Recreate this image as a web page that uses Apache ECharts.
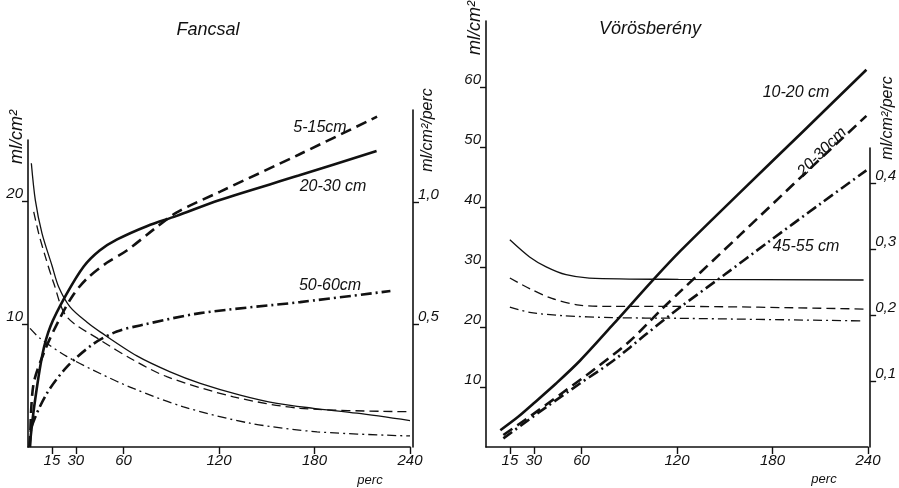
<!DOCTYPE html>
<html>
<head>
<meta charset="utf-8">
<script src="https://cdn.jsdelivr.net/npm/echarts@6/dist/echarts.min.js"></script>
<style>html,body{margin:0;padding:0;background:#fff}#c{width:899px;height:488px}</style>
</head>
<body>
<div id="c"></div>
<script>
// ---- tick labels ----
const xTicks = [15, 30, 60, 120, 180, 240];
const fLeftTicks = [10, 20];
const fRightTicks = [0.5, 1.0];
const vLeftTicks = [10, 20, 30, 40, 50, 60];
const vRightTicks = [0.1, 0.2, 0.3, 0.4];

// ---- Fancsal: cumulative (ml/cm2) ----
const f515_t = [1.3, 3.3, 10.7, 20.1, 28.5, 36.9, 49.5, 62.1, 78.8, 93.5, 120.8, 170, 219.3];
const f515_v = [0, 5.0, 7.9, 10.5, 12.4, 13.7, 15.0, 16.0, 17.7, 19.1, 20.8, 23.8, 26.9];
const f2030_t = [1, 4, 9, 14, 24, 35, 45, 56, 75, 93, 120, 170, 219];
const f2030_v = [0, 3.4, 7.5, 9.8, 12.4, 14.7, 16.0, 16.9, 18.0, 18.8, 20.1, 22.1, 24.1];
const f5060_t = [1, 2.3, 11.8, 24.3, 41.1, 55.8, 70.4, 108.2, 171, 227.7];
const f5060_v = [0, 1.65, 4.35, 6.5, 8.4, 9.4, 9.9, 10.9, 11.8, 12.7];
// ---- Fancsal: rate (ml/cm2/perc) ----
const fr2030_t = [2.1, 4.6, 8.8, 15.1, 19.3, 26.4, 36.9, 45.3, 68.4, 89.3, 108.2, 133.3, 156.4, 179.4, 206.7, 240];
const fr2030_v = [1.158, 1.008, 0.872, 0.74, 0.653, 0.572, 0.51, 0.47, 0.372, 0.307, 0.26, 0.212, 0.178, 0.158, 0.138, 0.108];
const fr515_t = [3.6, 6.7, 10.9, 16.2, 24.3, 45.3, 66.2, 87.2, 129.1, 171, 240];
const fr515_v = [0.96, 0.872, 0.777, 0.668, 0.532, 0.437, 0.355, 0.287, 0.205, 0.158, 0.144];
const fr5060_t = [1.3, 7.5, 24.3, 45.3, 66.2, 97.7, 139.6, 181.6, 240];
const fr5060_v = [0.484, 0.444, 0.37, 0.3, 0.239, 0.164, 0.097, 0.062, 0.045];

// ---- Vörösberény: cumulative (ml/cm2) ----
const v1020_t = [9, 20, 30, 44, 59, 80, 105, 122, 160, 200, 239];
const v1020_v = [2.8, 5.0, 7.3, 10.6, 14.4, 20.5, 27.9, 32.7, 42.6, 52.9, 63.0];
const v2030_t = [10.9, 27.6, 48.3, 69.7, 90.4, 111.1, 121.8, 160, 200, 239];
const v2030_v = [2.0, 5.1, 9.1, 13.3, 17.7, 23.2, 25.9, 35.5, 45.6, 55.3];
const v4555_t = [10.9, 38.1, 59, 79.9, 100.9, 121.8, 150, 176.2, 210, 239];
const v4555_v = [1.44, 6.7, 10.6, 14.4, 18.9, 23.3, 28.8, 34.0, 40.6, 46.2];
// ---- Vörösberény: rate (ml/cm2/perc) ----
const vr1020_t = [15.1, 27.6, 38.1, 50.7, 65.3, 121.8, 239];
const vr1020_v = [0.314, 0.288, 0.273, 0.261, 0.256, 0.254, 0.253];
const vr2030_t = [15.1, 27.6, 41.7, 59, 80, 121.8, 239];
const vr2030_v = [0.256, 0.240, 0.225, 0.215, 0.213, 0.213, 0.209];
const vr4555_t = [15.1, 27.6, 48.5, 80, 121.8, 239];
const vr4555_v = [0.212, 0.204, 0.199, 0.196, 0.195, 0.191];

const zip = (a, b) => a.map((x, i) => [x, b[i]]);
const INK = '#111';
const FONT = 'Liberation Sans';
const DASH = [11, 6];
const DASH_THIN = [9, 5];
const DASHDOT = [11, 4, 2, 4];
const DASHDOT_THIN = [9, 4, 2, 4];

function line(name, t, v, xi, yi, width, type) {
  return {
    name, type: 'line', xAxisIndex: xi, yAxisIndex: yi,
    data: zip(t, v), showSymbol: false, symbol: 'none',
    smooth: 0.3, clip: false, silent: true,
    lineStyle: { color: INK, width, type }
  };
}

const tickLabel = { color: INK, fontFamily: FONT, fontStyle: 'italic', fontSize: 15 };
const comma = v => v.toFixed(1).replace('.', ',');

function xAx(gi, show, name, gap, pad) {
  return {
    type: 'value', gridIndex: gi, min: 0, max: 240, show,
    splitLine: { show: false },
    axisLine: { show: true, onZero: false, lineStyle: { color: INK, width: 1.6 } },
    axisTick: { show: true, length: 7, customValues: xTicks, lineStyle: { color: INK, width: 1.4 } },
    axisLabel: Object.assign({ customValues: xTicks, margin: 6 }, tickLabel),
    name, nameLocation: 'end', nameGap: gap,
    nameTextStyle: { color: INK, fontFamily: FONT, fontStyle: 'italic', fontSize: 13, align: 'center', verticalAlign: 'top', padding: [pad, 0, 0, 0] }
  };
}

function yAx(gi, pos, max, ticks, fmt, name, nameGap, va, offset, margin, nsize, npad) {
  return {
    type: 'value', gridIndex: gi, position: pos, min: 0, max, offset,
    splitLine: { show: false },
    axisLine: { show: true, onZero: false, lineStyle: { color: INK, width: 1.6 } },
    axisTick: { show: true, length: 6, customValues: ticks, lineStyle: { color: INK, width: 1.4 } },
    axisLabel: Object.assign({ customValues: ticks, formatter: fmt, verticalAlign: 'bottom', margin }, tickLabel),
    name, nameLocation: 'end', nameGap, nameRotate: 90,
    nameTextStyle: { color: INK, fontFamily: FONT, fontStyle: 'italic', fontSize: nsize, align: 'center', verticalAlign: va, padding: npad }
  };
}

const grids = [
  { left: 28, width: 382, top: 140, height: 307 },
  { left: 28, width: 382, top: 110, height: 337 },
  { left: 486, width: 382, top: 18, height: 429 },
  { left: 486, width: 382, top: 148, height: 299 }
];

const annot = (text, x, y, size, rot) => ({
  type: 'text', x, y, rotation: rot || 0, silent: true,
  style: { text, fill: INK, font: 'italic ' + size + 'px "' + FONT + '"', textAlign: 'center', textVerticalAlign: 'middle' }
});

const option = {
  backgroundColor: '#fff',
  animation: false,
  grid: grids,
  xAxis: [
    xAx(0, true, 'perc', -40, 27),
    xAx(1, false, '', 0, 0),
    xAx(2, true, 'perc', -44, 26),
    xAx(3, false, '', 0, 0)
  ],
  yAxis: [
    yAx(0, 'left', 25, fLeftTicks, v => String(v), 'ml/cm²', 3, 'bottom', 0, 5, 18, [0, 0, 2, 0]),
    yAx(1, 'right', 1.3755, fRightTicks, comma, 'ml/cm²/perc', -20, 'top', 3, 5, 16, [7, 0, 0, 0]),
    yAx(2, 'left', 71.14, vLeftTicks, v => String(v), 'ml/cm²', -7, 'bottom', 0, 5, 18, [0, 0, 2, 0]),
    yAx(3, 'right', 0.453, vRightTicks, comma, 'ml/cm²/perc', 30, 'top', 5, 5, 16, [9, 0, 0, 0])
  ],
  graphic: [
    annot('Fancsal', 208, 30, 18),
    annot('Vörösberény', 650, 29, 18),
    annot('5-15cm', 320, 128, 16),
    annot('20-30 cm', 333, 187, 16),
    annot('50-60cm', 330, 286, 16),
    annot('10-20 cm', 796, 93, 16),
    annot('20-30cm', 822, 152, 16, Math.PI / 4),
    annot('45-55 cm', 806, 247, 16)
  ],
  series: [
    line('5-15cm', f515_t, f515_v, 0, 0, 2.6, DASH),
    line('20-30cm', f2030_t, f2030_v, 0, 0, 2.6, 'solid'),
    line('50-60cm', f5060_t, f5060_v, 0, 0, 2.6, DASHDOT),
    line('20-30cm rate', fr2030_t, fr2030_v, 1, 1, 1.3, 'solid'),
    line('5-15cm rate', fr515_t, fr515_v, 1, 1, 1.3, DASH_THIN),
    line('50-60cm rate', fr5060_t, fr5060_v, 1, 1, 1.3, DASHDOT_THIN),
    line('10-20 cm', v1020_t, v1020_v, 2, 2, 2.6, 'solid'),
    line('20-30cm', v2030_t, v2030_v, 2, 2, 2.6, DASH),
    line('45-55 cm', v4555_t, v4555_v, 2, 2, 2.6, DASHDOT),
    line('10-20 cm rate', vr1020_t, vr1020_v, 3, 3, 1.3, 'solid'),
    line('20-30cm rate', vr2030_t, vr2030_v, 3, 3, 1.3, DASH_THIN),
    line('45-55 cm rate', vr4555_t, vr4555_v, 3, 3, 1.3, DASHDOT_THIN)
  ]
};

const chart = echarts.init(document.getElementById('c'), null, { renderer: 'canvas' });
chart.setOption(option);
</script>
</body>
</html>
